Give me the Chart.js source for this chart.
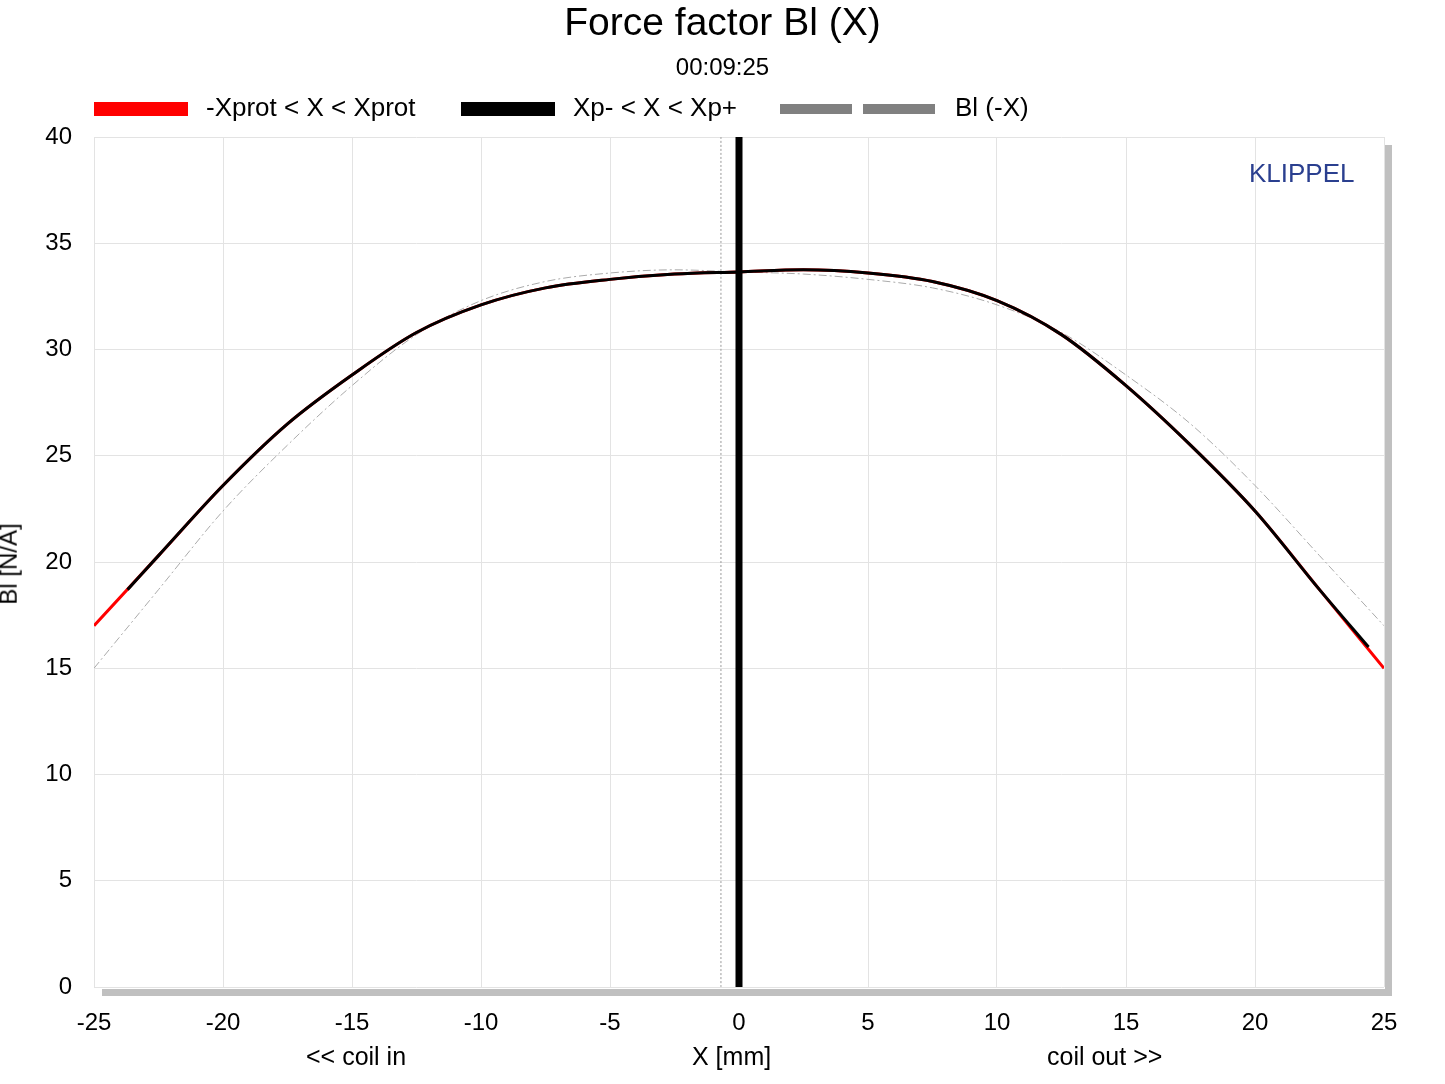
<!DOCTYPE html>
<html><head><meta charset="utf-8">
<script src="https://cdn.jsdelivr.net/npm/chart.js@4"></script>
<style>
body{margin:0;background:#fff;font-family:Arial,"Liberation Sans",sans-serif;}
#wrap{position:relative;width:1445px;height:1084px;}
.t{position:absolute;white-space:nowrap;color:#000;}
.sw{position:absolute;height:14px;}
</style></head><body>
<div id="wrap">
<canvas id="c" width="1445" height="1084"></canvas>
<div class="t" style="left:0;width:1445px;text-align:center;top:0;font-size:39px;">Force factor Bl (X)</div>
<div class="t" style="left:0;width:1445px;text-align:center;top:53px;font-size:24px;">00:09:25</div>
<div class="sw" style="left:94px;top:102px;width:94px;background:#f00"></div>
<div class="t" style="left:206px;top:92px;font-size:26px;">-Xprot &lt; X &lt; Xprot</div>
<div class="sw" style="left:461px;top:102px;width:94px;background:#000"></div>
<div class="t" style="left:573px;top:92px;font-size:26px;">Xp- &lt; X &lt; Xp+</div>
<div class="sw" style="left:780px;top:104px;width:72px;height:10px;background:#808080"></div>
<div class="sw" style="left:863px;top:104px;width:72px;height:10px;background:#808080"></div>
<div class="t" style="left:955px;top:92px;font-size:26px;">Bl (-X)</div>
<div class="t" style="left:1249px;top:158px;font-size:26px;color:#2a3f8f;">KLIPPEL</div>
<div class="t" style="left:-32px;top:550px;font-size:24px;transform:rotate(-90deg);">Bl [N/A]</div>
<div class="t" style="left:306px;top:1042px;font-size:25px;">&lt;&lt; coil in</div>
<div class="t" style="left:692px;top:1042px;font-size:25px;">X [mm]</div>
<div class="t" style="left:1047px;top:1042px;font-size:25px;">coil out &gt;&gt;</div>
</div>
<script>
const xs = [-25,-22.5,-20,-17.5,-15,-12.5,-10,-7.5,-5,-2.5,0,2.5,5,7.5,10,12.5,15,17.5,20,22.5,25];
const bl = [17.0,20.3,23.6,26.5,28.8,30.8,32.1,32.9,33.3,33.55,33.65,33.75,33.6,33.2,32.3,30.7,28.3,25.5,22.4,18.7,15.0];
const xsInner = [-23.7,-22.5,-20,-17.5,-15,-12.5,-10,-7.5,-5,-2.5,0,2.5,5,7.5,10,12.5,15,17.5,20,22.5,24.4];
const blInner = [18.7,20.3,23.6,26.5,28.8,30.8,32.1,32.9,33.3,33.55,33.65,33.75,33.6,33.2,32.3,30.7,28.3,25.5,22.4,18.7,16.0];
const blMirror = bl.slice().reverse();
const xTicks = [-25,-20,-15,-10,-5,0,5,10,15,20,25];
const xRest = 0;
const xMarker = -0.7;

const pts = (a, b) => a.map((x, i) => ({x: x, y: b[i]}));

const shadow = {
  id: 'shadow',
  afterDraw(chart) {
    const {ctx, chartArea: a} = chart;
    ctx.save();
    ctx.fillStyle = '#c0c0c0';
    ctx.fillRect(a.right + 1, a.top + 8, 7, a.bottom - a.top);
    ctx.fillRect(a.left + 8, a.bottom + 2, a.right - a.left, 7);
    ctx.restore();
  }
};

// first dataset is drawn on top
new Chart(document.getElementById('c'), {
  type: 'scatter',
  data: {
    datasets: [
      {data: pts([xRest, xRest], [0, 40]), borderColor: '#000', borderWidth: 7},
      {data: pts(xsInner, blInner), borderColor: '#000', borderWidth: 3},
      {data: pts(xs, bl), borderColor: '#f00', borderWidth: 3},
      {data: pts(xs, blMirror), borderColor: '#aaa', borderWidth: 1, borderDash: [8, 3, 2, 3]},
      {data: pts([xMarker, xMarker], [0, 40]), borderColor: '#999', borderWidth: 1, borderDash: [2, 2]}
    ].map(d => Object.assign(d, {showLine: true, pointRadius: 0, cubicInterpolationMode: 'monotone', fill: false}))
  },
  options: {
    responsive: false, animation: false,
    layout: {padding: {top: 137, right: 61, left: 0, bottom: 0}},
    plugins: {legend: {display: false}, tooltip: {enabled: false}},
    scales: {
      x: {
        type: 'linear', min: -25, max: 25,
        afterBuildTicks: s => { s.ticks = xTicks.map(v => ({value: v})); },
        afterFit: s => { s.height = 97; },
        grid: {color: '#e3e3e3', drawTicks: false},
        border: {display: false},
        ticks: {color: '#000', font: {size: 24, family: 'Arial'}, padding: 22}
      },
      y: {
        min: 0, max: 40,
        afterFit: s => { s.width = 94; },
        grid: {color: '#e3e3e3', drawTicks: false},
        border: {display: false},
        ticks: {stepSize: 5, color: '#000', font: {size: 24, family: 'Arial'}, padding: 22}
      }
    }
  },
  plugins: [shadow]
});
</script>
</body></html>
